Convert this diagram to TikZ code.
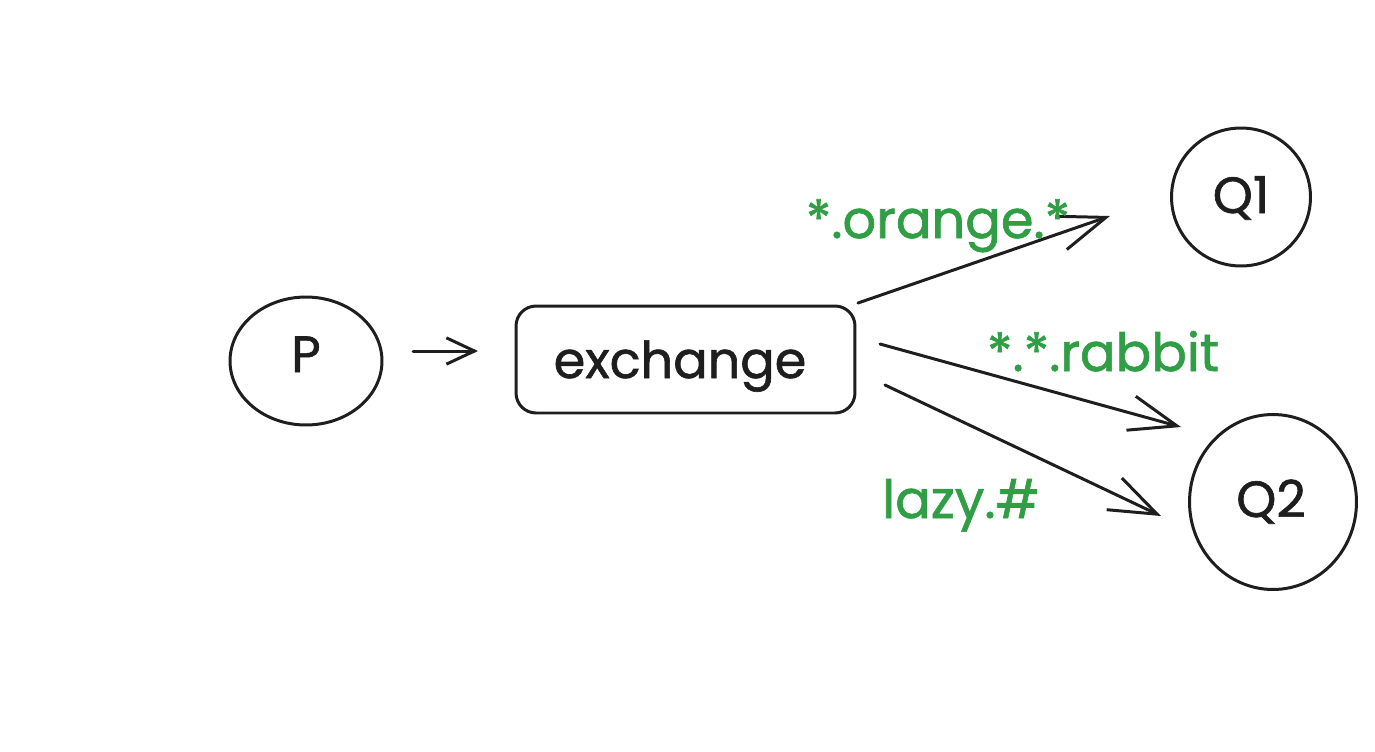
\documentclass[tikz,border=0pt]{standalone}
\usepackage{fontspec}
\setmainfont{Poppins}[FakeBold=1.2]
\usetikzlibrary{arrows.meta,shapes.geometric}
\definecolor{ink}{HTML}{1E1E1E}
\definecolor{grn}{HTML}{2F9E44}
\begin{document}
\begin{tikzpicture}[x=0.02cm,y=-0.02cm,
  shp/.style={draw=ink, line width=1.7pt, inner sep=0pt},
  arr/.style={draw=ink, line width=1.7pt, line cap=round, -{Straight Barb[length=27pt,width=20pt,line width=1.7pt]}},
  sarr/.style={draw=ink, line width=1.7pt, line cap=round, -{Straight Barb[length=16pt,width=15pt,line width=1.7pt]}},
  lbl/.style={text=grn, anchor=base, inner sep=0pt, font=\fontsize{30}{35}\selectfont},
  txt/.style={text=ink, anchor=base, inner sep=0pt, font=\fontsize{29}{34}\selectfont}]
\fill[white] (0,0) rectangle (1375,751);
\useasboundingbox (0,0) rectangle (1375,751);
% shapes
\node[shp, ellipse, minimum width=3.04cm, minimum height=2.56cm] (P) at (306,361) {};
\node[shp, rectangle, rounded corners=0.4cm, minimum width=6.78cm, minimum height=2.14cm] (ex) at (685.5,359.5) {};
\node[shp, ellipse, minimum width=2.78cm, minimum height=2.76cm] (Q1) at (1241,197) {};
\node[shp, ellipse, minimum width=3.34cm, minimum height=3.5cm] (Q2) at (1273,502) {};
% texts
\node[txt] (Pt) at (306,372) {P};
\node[txt] (ext) at (680,378) {exchange};
\node[txt] (Q1t) at (1241,213) {Q1};
\node[txt] (Q2t) at (1271,517) {Q2};
% connector end points
\coordinate (a0s) at (413,351);
\coordinate (a0e) at (478,351);
\coordinate (a1s) at (858,303);
\coordinate (a1e) at (1110,216);
\coordinate (a2s) at (880,344);
\coordinate (a2e) at (1181,427);
\coordinate (a3s) at (885,385);
\coordinate (a3e) at (1161,516);
\draw[sarr] (a0s) -- (a0e);
\draw[arr] (a1s) -- (a1e);
\draw[arr] (a2s) -- (a2e);
\draw[arr] (a3s) -- (a3e);
% labels
\node[lbl] (l1) at (938,238) {*.orange.*};
\node[lbl] (l2) at (1103,371) {*.*.rabbit};
\node[lbl] (l3) at (961,518) {lazy.\#};
\end{tikzpicture}
\end{document}
